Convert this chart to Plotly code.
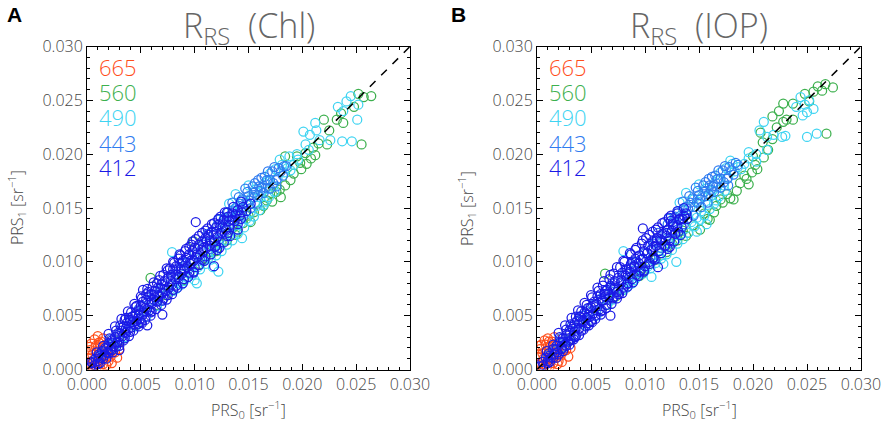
import plotly.graph_objects as go

# values, in units of 1e-3 sr^-1, as (PRS0, PRS1) pairs
bands = ["665", "560", "490", "443", "412"]
band_colors = ["#FF4E1A", "#3DB04E", "#3FD4F2", "#2F7BF0", "#1A1AE6"]

chl_665 = [(0.2, 0.5), (0.3, 1.1), (0.5, 0.2), (0.6, 0.9), (0.8, 0.4), (0.9, 1.6), (1.0, 1.2), (1.1, 0.7),
           (1.2, 2.0), (1.3, 1.0), (1.4, 1.8), (1.5, 0.5), (1.6, 1.4), (1.7, 2.3), (1.8, 1.1), (1.9, 1.7),
           (2.0, 0.8), (2.1, 1.5), (2.2, 1.2), (2.4, 1.8), (0.4, 2.4), (0.7, 2.8), (1.0, 3.1), (1.3, 2.6),
           (0.3, 1.8), (0.6, 0.1), (1.2, 0.3), (1.8, 0.4), (2.6, 1.6), (0.1, 1.5), (0.2, 2.1), (0.5, 1.4),
           (0.8, 2.2), (1.1, 2.5), (1.5, 2.9), (2.3, 0.6), (2.8, 1.1), (3.0, 1.9), (0.9, 0.2), (0.1, 0.3)]
chl_560 = [(3.0, 2.7), (4.5, 4.1), (5.9, 8.5), (6.5, 6.0), (8.0, 7.4), (9.0, 8.3), (9.9, 11.9), (10.5, 9.8),
           (11.5, 10.9), (12.5, 11.8), (13.0, 12.0), (13.5, 13.1), (14.0, 12.8), (14.5, 13.6), (15.0, 14.3),
           (15.5, 14.6), (16.1, 14.8), (16.7, 15.7), (17.2, 15.6), (17.6, 16.5), (18.0, 16.0), (18.4, 17.1),
           (18.4, 19.8), (19.5, 19.8), (19.8, 19.2), (20.3, 20.1), (20.4, 19.1), (21.2, 19.9), (22.0, 23.2),
           (23.2, 23.2), (23.8, 22.9), (22.3, 20.9), (25.5, 20.9), (24.8, 24.4), (23.6, 23.8), (25.2, 25.6),
           (25.7, 25.3), (26.4, 25.4), (12.0, 11.0), (13.8, 12.5), (15.2, 13.7), (16.4, 15.2), (17.9, 16.7),
           (18.9, 17.6), (19.2, 18.2), (19.9, 18.6), (20.8, 19.6), (11.0, 10.3), (9.5, 8.9), (7.3, 6.9),
           (17.0, 16.3), (21.5, 21.0), (22.5, 22.2), (21.0, 20.6)]
chl_490 = [(2.5, 2.0), (3.5, 3.0), (4.5, 4.0), (5.5, 4.9), (6.5, 5.9), (7.0, 6.4), (7.9, 10.9), (8.0, 7.3),
           (8.5, 8.0), (9.0, 8.2), (9.5, 8.9), (10.0, 8.3), (10.2, 8.0), (10.3, 9.5), (10.8, 10.1), (11.3, 10.4),
           (11.7, 9.5), (12.2, 9.1), (11.8, 11.3), (12.3, 11.6), (12.8, 12.0), (13.3, 12.5), (13.8, 13.0),
           (14.4, 12.2), (14.3, 13.6), (14.8, 14.0), (15.2, 14.6), (13.2, 15.4), (13.8, 16.3), (14.2, 15.0),
           (15.0, 17.1), (15.3, 16.0), (15.8, 15.2), (16.2, 16.5), (16.5, 17.3), (16.6, 15.6), (17.0, 18.2),
           (17.3, 17.0), (17.7, 17.7), (17.9, 19.5), (18.3, 18.3), (18.6, 18.7), (19.2, 19.0), (18.8, 19.8),
           (19.5, 20.0), (20.1, 22.1), (20.7, 21.8), (21.3, 22.2), (21.6, 21.3), (20.3, 20.9), (20.6, 20.4),
           (21.2, 22.9), (22.6, 21.3), (23.7, 21.2), (24.6, 21.2), (23.3, 24.4), (24.1, 24.9), (25.2, 24.6),
           (25.1, 23.2), (24.5, 25.4), (23.8, 24.0), (8.3, 7.5), (8.8, 7.9), (9.3, 8.5), (9.8, 8.8),
           (10.5, 9.3), (11.0, 9.8), (11.5, 10.2), (12.0, 10.6), (12.5, 11.0), (13.0, 11.6), (13.5, 12.0),
           (14.0, 12.6), (14.6, 13.2), (15.1, 13.8), (15.5, 14.2), (16.0, 14.8), (16.4, 15.3), (16.9, 16.0),
           (17.4, 16.5), (14.5, 15.7), (15.6, 16.7), (16.8, 17.6), (17.5, 18.6), (18.1, 19.0), (18.9, 18.5),
           (19.6, 19.5), (12.7, 14.0), (13.5, 14.8), (14.9, 15.5), (16.1, 16.0)]
chl_443 = [(1.0, 1.2), (1.5, 1.6), (2.0, 2.3), (2.5, 2.4), (3.0, 3.3), (3.5, 3.5), (4.0, 4.4), (4.5, 4.5),
           (4.8, 5.6), (5.0, 5.3), (5.5, 5.4), (6.0, 6.5), (6.5, 6.4), (6.8, 7.6), (7.0, 7.5), (7.5, 7.4),
           (8.0, 8.6), (8.5, 8.4), (8.8, 9.9), (9.0, 9.6), (9.5, 9.4), (10.0, 10.7), (10.5, 10.3), (10.8, 11.6),
           (11.0, 11.8), (11.5, 11.2), (11.8, 12.5), (12.0, 12.8), (12.3, 12.1), (12.6, 13.6), (12.8, 14.1),
           (13.0, 12.9), (13.3, 14.2), (13.6, 13.4), (13.8, 15.0), (14.0, 14.8), (14.2, 15.4), (14.4, 15.8),
           (14.5, 14.2), (14.8, 15.4), (15.0, 16.1), (15.2, 15.0), (15.4, 17.0), (15.5, 16.4), (15.8, 15.4),
           (16.0, 17.0), (16.2, 17.8), (16.4, 16.4), (16.7, 17.6), (16.8, 18.4), (17.0, 16.8), (17.2, 18.4),
           (17.6, 17.6), (17.8, 18.7), (18.2, 18.0), (18.5, 18.9), (15.5, 16.0), (16.2, 16.9), (17.6, 17.0),
           (11.2, 12.6), (11.6, 11.8), (12.1, 13.4), (12.4, 12.6), (12.9, 13.2), (13.1, 14.6), (13.4, 13.9),
           (13.9, 14.3), (14.1, 16.0), (14.6, 15.0), (14.9, 16.5), (15.1, 15.7), (15.6, 17.3), (15.9, 16.2),
           (16.1, 16.6), (16.5, 17.9), (16.6, 16.9), (17.0, 17.6), (17.3, 17.3), (17.4, 18.8), (18.0, 18.4),
           (18.3, 18.9), (13.5, 15.5), (14.7, 16.8), (15.9, 17.6), (12.2, 13.9), (10.6, 11.1), (9.8, 10.2),
           (9.2, 9.9), (8.2, 8.9), (7.2, 7.9), (6.2, 6.9), (5.2, 5.9), (4.2, 4.9), (3.2, 3.9), (2.2, 2.8)]
chl_412 = [(0.3, 0.2), (0.4, 0.7), (0.5, 0.6), (0.7, 0.4), (0.8, 1.0), (1.0, 0.8), (1.1, 1.4), (1.3, 1.1),
           (1.4, 1.7), (1.6, 1.3), (1.7, 2.0), (1.9, 1.6), (2.0, 2.4), (2.0, 1.5), (2.2, 1.9), (2.3, 2.7),
           (2.5, 2.2), (2.6, 3.0), (2.8, 2.5), (2.9, 3.4), (3.0, 2.5), (3.0, 1.8), (3.2, 3.6), (3.3, 3.1),
           (3.4, 4.0), (3.5, 4.6), (3.6, 3.4), (3.7, 4.3), (3.8, 3.7), (4.0, 4.6), (4.0, 3.5), (4.1, 3.9),
           (4.2, 4.9), (4.4, 4.2), (4.5, 5.2), (4.5, 5.8), (4.6, 4.5), (4.8, 5.5), (4.9, 4.7), (5.0, 5.9),
           (5.0, 4.4), (5.1, 5.0), (5.2, 6.3), (5.2, 7.4), (5.3, 5.3), (5.5, 6.5), (5.5, 7.0), (5.6, 5.6),
           (5.6, 4.1), (5.7, 6.8), (5.8, 5.5), (6.0, 7.0), (6.0, 6.1), (6.0, 5.4), (6.2, 6.5), (6.3, 7.3),
           (6.5, 6.3), (6.5, 8.0), (6.6, 7.6), (6.7, 6.8), (6.9, 7.9), (7.0, 7.1), (7.0, 5.1), (7.0, 6.4),
           (7.2, 8.2), (7.3, 7.3), (7.5, 8.5), (7.5, 9.2), (7.6, 7.6), (7.8, 8.8), (7.9, 7.9), (8.0, 9.3),
           (8.0, 7.4), (8.2, 8.4), (8.3, 9.6), (8.5, 8.6), (8.5, 10.3), (8.6, 9.9), (8.8, 8.9), (8.9, 10.1),
           (9.0, 9.2), (9.0, 8.4), (9.2, 10.4), (9.3, 9.5), (9.5, 10.7), (9.5, 11.4), (9.6, 9.8), (9.8, 11.0),
           (9.9, 10.1), (10.0, 11.3), (10.0, 9.5), (10.1, 13.7), (10.2, 10.4), (10.4, 11.6), (10.5, 10.7),
           (10.7, 11.9), (10.8, 11.0), (11.0, 12.2), (11.0, 10.5), (11.1, 11.3), (11.3, 12.5), (11.4, 11.5),
           (11.6, 12.8), (11.8, 9.6), (11.8, 11.9), (12.0, 13.2), (12.0, 11.5), (12.1, 12.3), (12.3, 13.5),
           (12.5, 12.7), (12.7, 13.9), (12.9, 13.0), (13.0, 12.4), (13.1, 14.2), (13.2, 13.4), (13.5, 14.5),
           (13.7, 13.8), (14.0, 14.8), (14.0, 13.5), (14.2, 14.3), (14.5, 15.1), (14.8, 14.7), (15.2, 15.4),
           (0.9, 1.6), (1.2, 0.6), (1.5, 2.2), (1.8, 1.0), (2.1, 2.9), (2.4, 1.6), (2.7, 3.6), (3.0, 2.2),
           (3.1, 4.1), (3.4, 2.7), (3.6, 4.8), (3.9, 3.1), (4.1, 5.3), (4.3, 3.6), (4.6, 5.9), (4.8, 4.0),
           (5.1, 6.6), (5.4, 4.6), (5.7, 7.2), (5.9, 5.0), (6.1, 7.7), (6.4, 5.6), (6.7, 8.3), (6.9, 6.0),
           (7.1, 8.8), (7.4, 6.5), (7.7, 9.4), (7.9, 7.0), (8.1, 9.9), (8.4, 7.6), (8.7, 10.6), (8.9, 8.0),
           (9.1, 11.0), (9.4, 8.6), (9.7, 11.6), (9.9, 9.1), (10.1, 12.1), (10.4, 9.7), (10.7, 12.7),
           (10.9, 10.1), (11.2, 13.1), (11.5, 10.7), (11.8, 13.6), (12.1, 11.1), (12.4, 14.2), (12.7, 11.8),
           (13.0, 14.6), (13.3, 12.4), (13.6, 15.1), (14.0, 13.0), (14.3, 15.6), (1.2, 1.3), (1.8, 1.9),
           (2.4, 2.5), (3.0, 3.1), (3.6, 3.8), (4.2, 4.4), (4.8, 5.0), (5.4, 5.7), (6.0, 6.3), (6.6, 6.9),
           (7.2, 7.5), (7.8, 8.2), (8.4, 8.8), (9.0, 9.4), (9.6, 10.1), (10.2, 10.7), (10.8, 11.3),
           (11.4, 12.0), (12.0, 12.6), (12.6, 13.2), (13.2, 13.8), (13.8, 14.4), (14.4, 14.6), (1.5, 1.0),
           (2.7, 2.1), (3.9, 4.8), (5.1, 4.3), (6.3, 6.7), (7.5, 6.9), (8.7, 9.3), (9.9, 9.0), (11.1, 11.9),
           (12.3, 11.3), (13.5, 13.9), (2.0, 3.3), (2.6, 4.0), (3.2, 4.7), (3.8, 5.4), (4.4, 6.1), (5.0, 6.8),
           (5.6, 7.5), (6.2, 8.1), (6.8, 8.7), (7.4, 9.4), (8.0, 10.0), (8.6, 10.7), (9.2, 11.2), (9.8, 11.9),
           (10.4, 12.4), (11.0, 12.9), (11.6, 13.5), (12.2, 14.0), (12.8, 14.6), (1.0, 0.5), (2.3, 1.8),
           (3.5, 2.9), (4.7, 4.2), (5.9, 5.3), (7.1, 6.6), (8.3, 7.8), (9.5, 9.0), (10.7, 10.2), (11.9, 11.4),
           (13.1, 12.7), (14.3, 14.0)]

iop_665 = [(0.2, 0.6), (0.3, 1.2), (0.5, 0.3), (0.6, 1.0), (0.8, 0.5), (0.9, 1.7), (1.0, 1.3), (1.1, 0.7),
           (1.2, 2.1), (1.3, 1.0), (1.4, 1.8), (1.5, 0.6), (1.6, 1.5), (1.7, 2.4), (1.8, 1.1), (1.9, 1.8),
           (2.0, 0.8), (2.1, 1.5), (2.2, 1.3), (2.5, 1.7), (0.4, 2.3), (0.7, 2.7), (1.0, 2.9), (1.4, 2.6),
           (0.3, 1.9), (0.6, 0.1), (1.2, 0.3), (1.9, 0.5), (2.7, 1.8), (0.1, 1.4), (0.2, 2.2), (0.5, 1.5),
           (0.8, 2.3), (1.1, 2.6), (1.6, 3.0), (2.3, 0.7), (2.9, 1.2), (3.1, 2.0), (0.9, 0.2), (0.1, 0.4)]
iop_560 = [(3.0, 2.8), (4.5, 4.1), (6.3, 8.9), (6.5, 6.0), (8.0, 7.4), (9.0, 8.3), (9.7, 8.9), (10.5, 9.8),
           (11.5, 10.8), (12.5, 11.7), (13.0, 12.0), (13.5, 12.9), (14.0, 12.7), (14.5, 13.4), (15.1, 13.0),
           (15.5, 14.5), (16.0, 13.9), (16.6, 15.2), (17.2, 15.5), (17.6, 16.3), (18.2, 15.8), (18.8, 17.3),
           (18.5, 16.6), (19.2, 18.0), (19.6, 17.2), (20.0, 19.8), (20.4, 18.6), (20.7, 22.0), (21.4, 20.4),
           (21.8, 23.5), (22.4, 24.0), (22.8, 24.7), (23.7, 24.7), (23.7, 23.2), (22.8, 23.0), (23.1, 23.2),
           (26.8, 21.9), (25.6, 25.8), (26.4, 25.9), (26.7, 26.5), (27.4, 26.2), (26.0, 26.3), (25.2, 24.9),
           (24.8, 25.6), (12.0, 10.9), (13.8, 12.4), (15.8, 14.0), (16.4, 14.6), (17.9, 15.9), (19.4, 17.7),
           (19.9, 18.3), (20.2, 19.0), (21.0, 19.7), (11.0, 10.2), (9.5, 8.7), (7.3, 6.8), (17.0, 15.8),
           (21.8, 21.4), (22.2, 22.5), (20.9, 21.1)]
iop_490 = [(2.5, 2.1), (3.5, 3.1), (4.5, 4.1), (5.5, 5.0), (6.5, 6.0), (7.0, 6.5), (8.0, 11.0), (8.0, 7.4),
           (8.5, 8.1), (9.0, 8.3), (9.5, 9.0), (10.0, 9.2), (10.6, 8.6), (10.3, 9.6), (10.8, 10.2), (11.3, 10.5),
           (11.7, 9.8), (12.9, 10.0), (11.8, 11.4), (12.3, 11.7), (12.8, 12.1), (13.3, 12.6), (13.8, 13.1),
           (14.8, 12.8), (15.7, 13.5), (14.3, 13.7), (14.8, 14.1), (15.2, 14.7), (13.2, 15.5), (13.8, 16.4),
           (14.2, 15.1), (15.0, 17.2), (15.3, 16.1), (15.8, 15.3), (16.2, 16.6), (16.5, 17.4), (16.6, 15.7),
           (17.0, 18.3), (17.3, 17.1), (17.7, 17.8), (17.9, 19.4), (18.3, 18.4), (18.6, 18.8), (19.2, 19.1),
           (19.6, 20.2), (20.3, 20.0), (20.6, 22.2), (21.3, 21.6), (21.9, 21.8), (22.7, 21.6), (20.3, 19.3),
           (21.3, 20.4), (21.0, 23.0), (23.0, 21.7), (25.0, 21.6), (25.9, 21.9), (24.4, 25.3), (24.8, 24.6),
           (25.2, 25.0), (25.6, 24.2), (24.6, 23.6), (25.0, 23.9), (24.0, 24.4), (8.3, 7.6), (8.8, 8.0),
           (9.3, 8.6), (9.8, 8.9), (10.5, 9.4), (11.0, 9.9), (11.5, 10.3), (12.0, 10.7), (12.5, 11.1),
           (13.0, 11.7), (13.5, 12.1), (14.0, 12.7), (14.6, 13.3), (15.1, 13.9), (15.5, 14.3), (16.0, 14.9),
           (16.4, 15.4), (16.9, 16.1), (17.4, 16.6), (14.5, 15.8), (15.6, 16.8), (16.8, 17.7), (17.5, 18.7),
           (18.1, 19.1), (18.9, 18.6), (19.6, 19.6), (12.7, 14.1), (13.5, 14.9), (14.9, 15.6), (16.1, 16.1)]
iop_443 = [(1.0, 1.3), (1.5, 1.7), (2.0, 2.4), (2.5, 2.5), (3.0, 3.4), (3.5, 3.6), (4.0, 4.5), (4.5, 4.6),
           (4.8, 5.7), (5.0, 5.4), (5.5, 5.5), (6.0, 6.6), (6.5, 6.5), (6.8, 7.7), (7.0, 7.6), (7.5, 7.5),
           (8.0, 8.7), (8.5, 8.5), (8.8, 10.0), (9.0, 9.7), (9.5, 9.5), (10.0, 10.8), (10.5, 10.4), (10.8, 11.7),
           (11.0, 11.9), (11.5, 11.3), (11.8, 12.6), (12.0, 12.9), (12.3, 12.2), (12.6, 13.7), (12.8, 14.2),
           (13.0, 13.0), (13.3, 14.3), (13.6, 13.5), (13.8, 15.1), (14.0, 14.9), (14.2, 15.5), (14.4, 15.9),
           (14.5, 14.3), (14.8, 15.5), (15.0, 16.2), (15.2, 15.1), (15.4, 17.1), (15.5, 16.5), (15.8, 15.5),
           (16.0, 17.1), (16.2, 17.9), (16.4, 16.5), (16.7, 17.7), (16.8, 18.5), (17.0, 16.9), (17.2, 18.5),
           (17.6, 17.7), (17.8, 18.8), (18.2, 18.1), (18.6, 19.0), (15.6, 16.1), (16.3, 17.0), (17.7, 17.1),
           (11.2, 12.7), (11.6, 11.9), (12.1, 13.5), (12.4, 12.7), (12.9, 13.3), (13.1, 14.7), (13.4, 14.0),
           (13.9, 14.4), (14.1, 16.1), (14.6, 15.1), (14.9, 16.6), (15.1, 15.8), (15.6, 17.4), (15.9, 16.3),
           (16.1, 16.7), (16.5, 18.0), (16.6, 17.0), (17.0, 17.7), (17.3, 17.4), (17.4, 18.9), (18.0, 18.5),
           (18.4, 19.2), (13.5, 15.6), (14.7, 16.9), (15.9, 17.7), (12.2, 14.0), (10.6, 11.2), (9.8, 10.3),
           (9.2, 10.0), (8.2, 9.0), (7.2, 8.0), (6.2, 7.0), (5.2, 6.0), (4.2, 5.0), (3.2, 4.0), (2.2, 2.9)]
iop_412 = [(0.3, 0.3), (0.5, 0.7), (0.6, 0.4), (0.8, 1.1), (1.0, 0.8), (1.1, 1.5), (1.3, 1.1), (1.5, 1.9),
           (1.6, 1.4), (1.8, 2.2), (1.9, 1.6), (2.0, 1.4), (2.1, 2.5), (2.3, 2.0), (2.4, 2.9), (2.6, 2.3),
           (2.7, 3.2), (2.9, 2.6), (3.0, 3.6), (3.1, 2.7), (3.3, 3.8), (3.4, 3.2), (3.5, 4.3), (3.6, 3.1),
           (3.7, 4.5), (3.9, 3.8), (4.0, 4.9), (4.1, 3.6), (4.3, 4.4), (4.4, 5.3), (4.5, 4.0), (4.6, 4.8),
           (4.7, 5.7), (4.9, 4.9), (5.0, 5.8), (5.0, 4.5), (5.2, 5.2), (5.3, 6.3), (5.4, 5.0), (5.5, 6.1),
           (5.6, 6.8), (5.8, 5.6), (5.9, 7.0), (6.0, 5.5), (6.1, 6.4), (6.3, 7.0), (6.3, 7.3), (6.4, 6.0),
           (6.5, 7.4), (6.7, 6.7), (6.8, 5.0), (6.8, 7.8), (7.0, 6.6), (7.1, 7.5), (7.2, 8.2), (7.4, 7.2),
           (7.5, 8.5), (7.6, 7.0), (7.8, 8.1), (7.9, 9.0), (8.0, 7.6), (8.2, 8.7), (8.3, 9.3), (8.4, 8.0),
           (8.6, 9.1), (8.7, 9.8), (8.8, 8.4), (9.0, 9.6), (9.1, 10.3), (9.2, 8.8), (9.4, 9.9), (9.5, 10.6),
           (9.6, 9.2), (9.8, 13.1), (9.8, 10.3), (9.9, 11.0), (10.0, 9.6), (10.2, 10.8), (10.3, 11.5),
           (10.4, 10.0), (10.6, 11.1), (10.7, 11.9), (10.8, 10.4), (11.0, 11.5), (11.2, 9.5), (11.1, 12.2),
           (11.3, 11.0), (11.5, 12.0), (11.6, 12.6), (11.8, 11.5), (12.0, 12.4), (12.1, 13.0), (12.3, 12.0),
           (12.5, 12.9), (12.6, 13.5), (12.8, 12.6), (13.0, 13.4), (13.2, 14.0), (13.4, 13.2), (13.6, 14.3),
           (13.9, 14.0), (12.4, 13.8), (13.0, 14.5), (0.9, 1.7), (1.2, 0.7), (1.5, 2.3), (1.8, 1.1),
           (2.1, 3.0), (2.4, 1.7), (2.7, 3.7), (3.0, 2.3), (3.1, 4.2), (3.4, 2.8), (3.6, 4.9), (3.9, 3.2),
           (4.1, 5.4), (4.3, 3.7), (4.6, 6.0), (4.8, 4.1), (5.1, 6.7), (5.4, 4.7), (5.7, 7.3), (5.9, 5.1),
           (6.1, 7.8), (6.4, 5.7), (6.7, 8.4), (6.9, 6.1), (7.1, 8.9), (7.4, 6.6), (7.7, 9.5), (7.9, 7.1),
           (8.1, 10.0), (8.4, 7.7), (8.7, 10.7), (8.9, 8.1), (9.1, 11.1), (9.4, 8.7), (9.7, 11.7), (9.9, 9.2),
           (10.1, 12.2), (10.4, 9.8), (10.7, 12.8), (10.9, 10.2), (11.2, 13.2), (11.5, 10.8), (11.8, 13.7),
           (12.1, 11.2), (12.4, 14.3), (12.7, 11.9), (13.0, 14.7), (13.3, 12.5), (13.6, 15.0), (1.2, 1.3),
           (1.8, 1.9), (2.4, 2.6), (3.0, 3.2), (3.6, 3.9), (4.2, 4.5), (4.8, 5.1), (5.4, 5.8), (6.0, 6.4),
           (6.6, 7.0), (7.2, 7.6), (7.8, 8.3), (8.4, 8.9), (9.0, 9.5), (9.6, 10.2), (10.2, 10.8), (10.8, 11.4),
           (11.4, 12.1), (12.0, 12.7), (12.6, 13.3), (13.2, 13.9), (13.8, 14.5), (1.5, 1.1), (2.7, 2.2),
           (3.9, 4.9), (5.1, 4.4), (6.3, 6.8), (7.5, 7.0), (8.7, 9.4), (9.9, 9.1), (11.1, 12.0), (12.3, 11.4),
           (13.5, 14.0), (2.0, 3.4), (2.6, 4.1), (3.2, 4.8), (3.8, 5.5), (4.4, 6.2), (5.0, 6.9), (5.6, 7.6),
           (6.2, 8.2), (6.8, 8.8), (7.4, 9.5), (8.0, 10.1), (8.6, 10.8), (9.2, 11.3), (9.8, 12.0), (10.4, 12.5),
           (11.0, 13.0), (11.6, 13.6), (12.2, 14.1), (1.0, 0.6), (2.3, 1.9), (3.5, 3.0), (4.7, 4.3), (5.9, 5.4),
           (7.1, 6.7), (8.3, 7.9), (9.5, 9.1), (10.7, 10.3), (11.9, 11.5), (13.1, 12.8)]

panels = [
    ("Chl", [chl_665, chl_560, chl_490, chl_443, chl_412]),
    ("IOP", [iop_665, iop_560, iop_490, iop_443, iop_412]),
]
one_to_one = [0.0, 0.03]

W, H = 886, 424
gray = "#454545"
font = "Open Sans"

fig = go.Figure()

for i, (name, series) in enumerate(panels):
    xa = "x" if i == 0 else "x2"
    ya = "y" if i == 0 else "y2"
    for band, color, pts in zip(bands, band_colors, series):
        fig.add_trace(go.Scatter(
            x=[p[0] * 1e-3 for p in pts], y=[p[1] * 1e-3 for p in pts],
            mode="markers", xaxis=xa, yaxis=ya, name=band, showlegend=False,
            marker=dict(symbol="circle-open", size=9, color=color, line=dict(width=1.25, color=color)),
        ))
    fig.add_trace(go.Scatter(x=one_to_one, y=one_to_one, mode="lines", xaxis=xa, yaxis=ya,
                             showlegend=False, line=dict(color="black", width=1.5, dash="8px,8px")))

axis_style = dict(
    range=[0, 0.03], tick0=0, dtick=0.005, tickformat=".3f", automargin=False,
    showgrid=False, zeroline=False, showline=True, linecolor="black", linewidth=1,
    mirror="allticks", ticks="inside", ticklen=6, tickwidth=1, tickcolor="black",
    tickfont=dict(family=font, size=16, color=gray, weight=300),
    minor=dict(ticks="inside", ticklen=3, tick0=0, dtick=0.001, tickcolor="black", showgrid=False),
)


def px_x(v):
    return v / W


def px_y(v):
    return 1 - v / H


ytop, ybot = 46.5, 369.5
dom_y = [px_y(ybot), px_y(ytop)]
left_edges = [(87, 410), (537, 861)]

fig.update_layout(
    width=W, height=H, margin=dict(l=0, r=0, t=0, b=0),
    paper_bgcolor="white", plot_bgcolor="white",
    xaxis=dict(domain=[px_x(left_edges[0][0]), px_x(left_edges[0][1])], anchor="y", **axis_style),
    yaxis=dict(domain=dom_y, anchor="x", **axis_style),
    xaxis2=dict(domain=[px_x(left_edges[1][0]), px_x(left_edges[1][1])], anchor="y2", **axis_style),
    yaxis2=dict(domain=dom_y, anchor="x2", **axis_style),
)

annotations = []
legend_y = [0.9375, 0.860, 0.7817, 0.7012, 0.6254]
for i, (name, _) in enumerate(panels):
    x0, x1 = left_edges[i]
    cx = (x0 + x1) / 2
    sfx = "" if i == 0 else "2"
    annotations.append(dict(text="R<sub>RS</sub>&nbsp;&nbsp;(" + name + ")", x=px_x(cx), y=1,
                            xref="paper", yref="paper", showarrow=False, xanchor="center", yanchor="top",
                            font=dict(family=font, size=34, color="#666666", weight=300)))
    annotations.append(dict(text="<b>" + "AB"[i] + "</b>", x=px_x(14 if i == 0 else 459), y=px_y(15),
                            xref="paper", yref="paper", showarrow=False, xanchor="center", yanchor="middle",
                            font=dict(family="Liberation Sans", size=21, color="black")))
    annotations.append(dict(text="PRS<sub>0</sub> [sr<sup>−1</sup>]", x=px_x(cx), y=px_y(409),
                            xref="paper", yref="paper", showarrow=False, xanchor="center", yanchor="middle",
                            font=dict(family=font, size=16, color=gray, weight=300)))
    annotations.append(dict(text="PRS<sub>1</sub> [sr<sup>−1</sup>]", x=px_x(x0 - 71), y=px_y(208),
                            xref="paper", yref="paper", showarrow=False, textangle=-90,
                            xanchor="center", yanchor="middle",
                            font=dict(family=font, size=16, color=gray, weight=300)))
    for band, color, ly in zip(bands, band_colors, legend_y):
        annotations.append(dict(text=band, x=0.03, y=ly, xref="x" + sfx + " domain", yref="y" + sfx + " domain",
                                showarrow=False, xanchor="left", yanchor="middle",
                                font=dict(family=font, size=22, color=color, weight=300)))

fig.update_layout(annotations=annotations)
# drop the default page margin so the figure fills the window exactly
fig.write_html("out.html", config={"displayModeBar": False},
               post_script="document.body.style.margin = '0';")
